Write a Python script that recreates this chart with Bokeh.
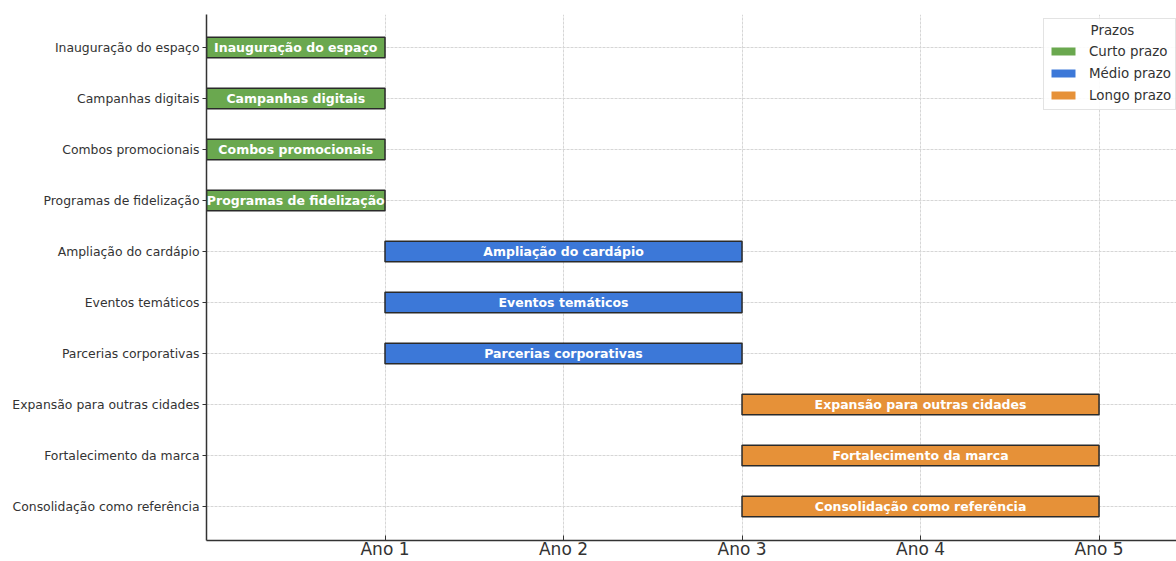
from bokeh.plotting import figure
from bokeh.models import (ColumnDataSource, FixedTicker, Legend, LegendItem, Range1d)
from bokeh.core.properties import value
from bokeh.embed import file_html
from bokeh.resources import INLINE

tasks = ["Inauguração do espaço", "Campanhas digitais", "Combos promocionais",
         "Programas de fidelização", "Ampliação do cardápio", "Eventos temáticos",
         "Parcerias corporativas", "Expansão para outras cidades",
         "Fortalecimento da marca", "Consolidação como referência"]
start = [0, 0, 0, 0, 1, 1, 1, 3, 3, 3]
end = [1, 1, 1, 1, 3, 3, 3, 5, 5, 5]
group = ["Curto prazo"] * 4 + ["Médio prazo"] * 3 + ["Longo prazo"] * 3
groups = ["Curto prazo", "Médio prazo", "Longo prazo"]
colors = {"Curto prazo": "#6aa84f", "Médio prazo": "#3c78d8", "Longo prazo": "#e69138"}
x_ticks = [1, 2, 3, 4, 5]
x_labels = ["Ano 1", "Ano 2", "Ano 3", "Ano 4", "Ano 5"]
legend_title = "Prazos"

FONT = value("DejaVu Sans")
n = len(tasks)
ypos = [n - 1 - i for i in range(n)]

p = figure(width=1176, height=561, output_backend="svg", toolbar_location=None,
           x_range=Range1d(0, 5.434), y_range=Range1d(-0.667, 9.647),
           min_border_left=206, min_border_top=14, min_border_right=0, min_border_bottom=0)
p.outline_line_color = None
p.background_fill_color = "white"

# grids
for g in (p.xgrid, p.ygrid):
    g.grid_line_color = "#d6d6d6"
    g.grid_line_dash = "3 1"
    g.grid_line_width = 1
p.xgrid.ticker = FixedTicker(ticks=x_ticks)
p.ygrid.ticker = FixedTicker(ticks=ypos)

# axes
p.xaxis.ticker = FixedTicker(ticks=x_ticks)
p.xaxis.major_label_overrides = {t: l for t, l in zip(x_ticks, x_labels)}
p.yaxis.ticker = FixedTicker(ticks=ypos)
p.yaxis.major_label_overrides = {y: t for y, t in zip(ypos, tasks)}
for ax in (p.xaxis[0], p.yaxis[0]):
    ax.axis_line_color = "#333333"
    ax.axis_line_width = 1.5
    ax.major_tick_line_color = "#333333"
    ax.minor_tick_line_color = None
    ax.major_label_text_font = "DejaVu Sans"
    ax.major_label_text_color = "#333333"
    ax.axis_label_standoff = 0
p.xaxis.major_tick_in = 5
p.xaxis.major_tick_out = 0
p.xaxis.major_label_standoff = -2
p.xaxis.major_label_text_font_size = "17px"
p.yaxis.major_tick_in = 0
p.yaxis.major_tick_out = 4
p.yaxis.major_label_standoff = 3
p.yaxis.major_label_text_font_size = "12.4px"

# bars
legend_items = []
for g in groups:
    idx = [i for i in range(n) if group[i] == g]
    src = ColumnDataSource(dict(
        y=[ypos[i] for i in idx],
        left=[start[i] for i in idx],
        right=[end[i] for i in idx],
        mid=[(start[i] + end[i]) / 2 for i in idx],
        label=[tasks[i] for i in idx]))
    swatch = p.hbar(y="y", left="left", right="right", height=0.4, source=src,
                    fill_color=colors[g], line_alpha=0)
    p.hbar(y="y", left="left", right="right", height=0.4, source=src,
           fill_color=colors[g], line_color="#2a2a2a", line_width=1.5)
    p.text(x="mid", y="y", text="label", source=src, text_color="white",
           text_font=FONT, text_font_style="bold", text_font_size="12.5px",
           text_align="center", text_baseline="middle")
    legend_items.append(LegendItem(label=g, renderers=[swatch]))

legend = Legend(items=legend_items, location=(837, 430),
                title="\u00a0" * 10 + legend_title,
                title_text_font_size="13.4px", title_text_color="#333333",
                title_text_font_style="normal", title_text_font="DejaVu Sans",
                title_standoff=3,
                label_text_font="DejaVu Sans", label_text_font_size="13.4px",
                label_text_color="#333333", glyph_width=30, glyph_height=10,
                label_height=20, spacing=2, padding=4, label_standoff=11,
                border_line_color="#c8c8c8", border_line_width=1,
                background_fill_alpha=0.9)
p.add_layout(legend, "center")

open("out.html", "w").write(file_html(p, INLINE))
